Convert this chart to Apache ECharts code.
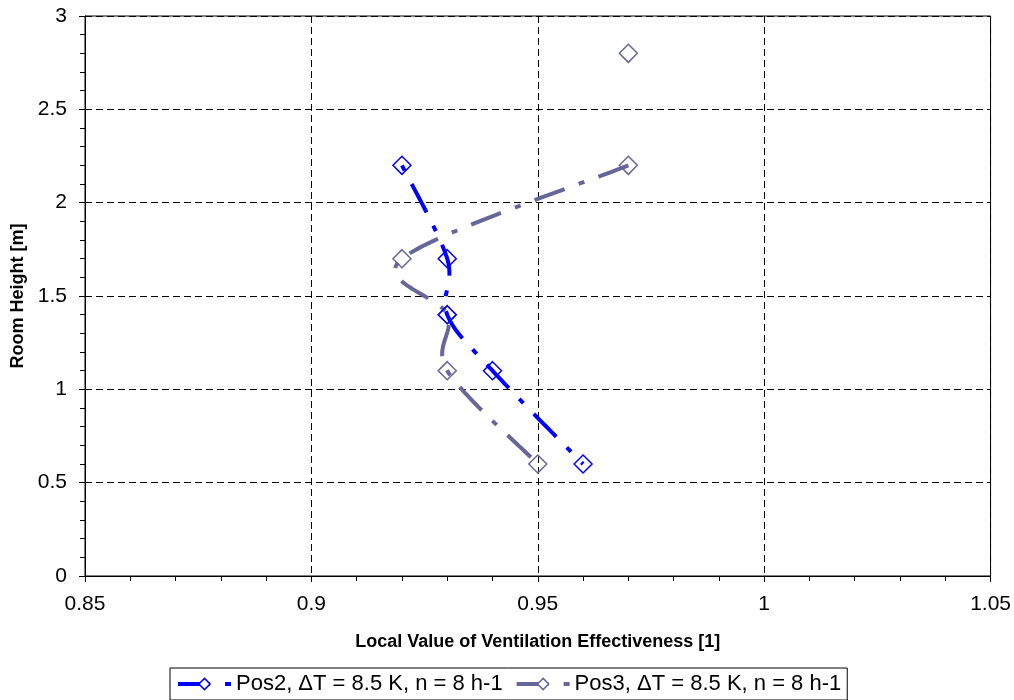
<!DOCTYPE html>
<html>
<head>
<meta charset="utf-8">
<script src="https://cdn.jsdelivr.net/npm/echarts@6/dist/echarts.min.js"></script>
<style>html,body{margin:0;padding:0;background:#fff;}#c{width:1014px;height:700px;}</style>
</head>
<body>
<div id="c"></div>
<script>
const seriesNames = ['Pos2, \u0394T = 8.5 K, n = 8 h-1', 'Pos3, \u0394T = 8.5 K, n = 8 h-1'];
const pos2X = [0.92, 0.93, 0.93, 0.94, 0.96];
const pos2Y = [2.2, 1.7, 1.4, 1.1, 0.6];
const pos3X = [0.97, null, 0.97, 0.92, 0.93, 0.93, 0.95];
const pos3Y = [2.8, null, 2.2, 1.7, 1.4, 1.1, 0.6];
const xTicks = { min: 0.85, max: 1.05, interval: 0.05 };
const yTicks = { min: 0, max: 3, interval: 0.5 };
const colors = ['#0000FF', '#666699'];

function pairs(xs, ys) {
  return xs.map((x, i) => (x === null || ys[i] === null) ? ['-', '-'] : [x, ys[i]]);
}

// Excel-style smoothed curve, computed in pixel space from library coordinates
function smoothRun(pts) {
  const out = [];
  const n = pts.length;
  if (n < 2) return out;
  const dist = (a, b) => Math.hypot(a[0] - b[0], a[1] - b[1]);
  out.push(pts[0]);
  for (let i = 0; i < n - 1; i++) {
    const p1 = pts[i], p2 = pts[i + 1];
    const p0 = i > 0 ? pts[i - 1] : p1;
    const p3 = i + 2 < n ? pts[i + 2] : p2;
    const d02 = dist(p0, p2), d12 = dist(p1, p2), d13 = dist(p1, p3);
    const f1 = d02 > 0 ? Math.min(1 / 6, d12 / (2 * d02)) : 0;
    const f2 = d13 > 0 ? Math.min(1 / 6, d12 / (2 * d13)) : 0;
    const b1 = [p1[0] + (p2[0] - p0[0]) * f1, p1[1] + (p2[1] - p0[1]) * f1];
    const b2 = [p2[0] - (p3[0] - p1[0]) * f2, p2[1] - (p3[1] - p1[1]) * f2];
    const steps = 40;
    for (let s = 1; s <= steps; s++) {
      const t = s / steps, u = 1 - t;
      out.push([
        u * u * u * p1[0] + 3 * u * u * t * b1[0] + 3 * u * t * t * b2[0] + t * t * t * p2[0],
        u * u * u * p1[1] + 3 * u * u * t * b1[1] + 3 * u * t * t * b2[1] + t * t * t * p2[1]
      ]);
    }
  }
  return out;
}

const dashDot = [32, 15, 6, 15];

function curveSeries(xs, ys, color, dashOffset) {
  return {
    type: 'custom', coordinateSystem: 'cartesian2d', silent: true, z: 2,
    data: [[xs.find(v => v !== null), ys.find(v => v !== null)]],
    renderItem: function (params, api) {
      const runs = [];
      let cur = [];
      xs.forEach((x, i) => {
        if (x === null || ys[i] === null) { if (cur.length) runs.push(cur); cur = []; }
        else cur.push(api.coord([x, ys[i]]));
      });
      if (cur.length) runs.push(cur);
      const children = runs.filter(r => r.length > 1).map(r => ({
        type: 'polyline',
        shape: { points: smoothRun(r) },
        style: { stroke: color, lineWidth: 4, fill: null, lineDash: dashDot, lineDashOffset: dashOffset }
      }));
      return { type: 'group', children: children };
    }
  };
}

const chart = echarts.init(document.getElementById('c'));
const font = '"Liberation Sans", Arial, sans-serif';
chart.setOption({
  animation: false,
  grid: { left: 85, right: 23, top: 16, bottom: 124, show: true, borderColor: '#000', borderWidth: 1 },
  xAxis: {
    type: 'value', min: xTicks.min, max: xTicks.max, interval: xTicks.interval,
    name: 'Local Value of Ventilation Effectiveness [1]', nameLocation: 'middle', nameGap: 57,
    nameTextStyle: { fontFamily: font, fontWeight: 'bold', fontSize: 18, color: '#000' },
    axisLine: { lineStyle: { color: '#000', width: 1 } },
    axisTick: { show: true, inside: false, length: 6, lineStyle: { color: '#000' } },
    minorTick: { show: true, splitNumber: 5, length: 5, lineStyle: { color: '#000' } },
    axisLabel: { fontFamily: font, fontSize: 21, color: '#000', margin: 18,
      formatter: v => String(parseFloat(v.toFixed(2))) },
    splitLine: { show: true, lineStyle: { color: '#000', type: [7, 4], width: 1 } }
  },
  yAxis: {
    type: 'value', min: yTicks.min, max: yTicks.max, interval: yTicks.interval,
    name: 'Room Height [m]', nameLocation: 'middle', nameGap: 58,
    nameTextStyle: { fontFamily: font, fontWeight: 'bold', fontSize: 18, color: '#000' },
    axisLine: { show: true, lineStyle: { color: '#000', width: 1 } },
    axisTick: { show: true, inside: false, length: 6, lineStyle: { color: '#000' } },
    minorTick: { show: true, splitNumber: 5, length: 5, lineStyle: { color: '#000' } },
    axisLabel: { fontFamily: font, fontSize: 21, color: '#000', margin: 18 },
    splitLine: { show: true, lineStyle: { color: '#000', type: [7, 4], width: 1 } }
  },
  legend: {
    left: 170, top: 668, padding: [5, 6, 5, 6], itemGap: 12, itemWidth: 53, itemHeight: 14,
    borderColor: '#000', borderWidth: 1, backgroundColor: '#fff',
    textStyle: { fontFamily: font, fontSize: 22, color: '#000' },
    data: seriesNames.map((n, i) => ({
      name: n,
      lineStyle: { opacity: 1, width: 4, color: colors[i], type: dashDot },
      itemStyle: { color: '#fff', borderColor: colors[i], borderWidth: 1.5 }
    }))
  },
  series: [
    curveSeries(pos2X, pos2Y, colors[0], 47),
    curveSeries(pos3X, pos3Y, colors[1], 0),
    {
      name: seriesNames[0], type: 'line', smooth: false,
      data: pairs(pos2X, pos2Y),
      symbol: 'diamond', symbolSize: 18, showAllSymbol: true,
      itemStyle: { color: 'rgba(255,255,255,0)', borderColor: colors[0], borderWidth: 1.5 },
      lineStyle: { color: colors[0], width: 4, type: dashDot, opacity: 0 },
      z: 4
    },
    {
      name: seriesNames[1], type: 'line', smooth: false, connectNulls: false,
      data: pairs(pos3X, pos3Y),
      symbol: 'diamond', symbolSize: 18, showAllSymbol: true,
      itemStyle: { color: 'rgba(255,255,255,0)', borderColor: colors[1], borderWidth: 1.5 },
      lineStyle: { color: colors[1], width: 4, type: dashDot, opacity: 0 },
      z: 3
    }
  ]
});
</script>
</body>
</html>
